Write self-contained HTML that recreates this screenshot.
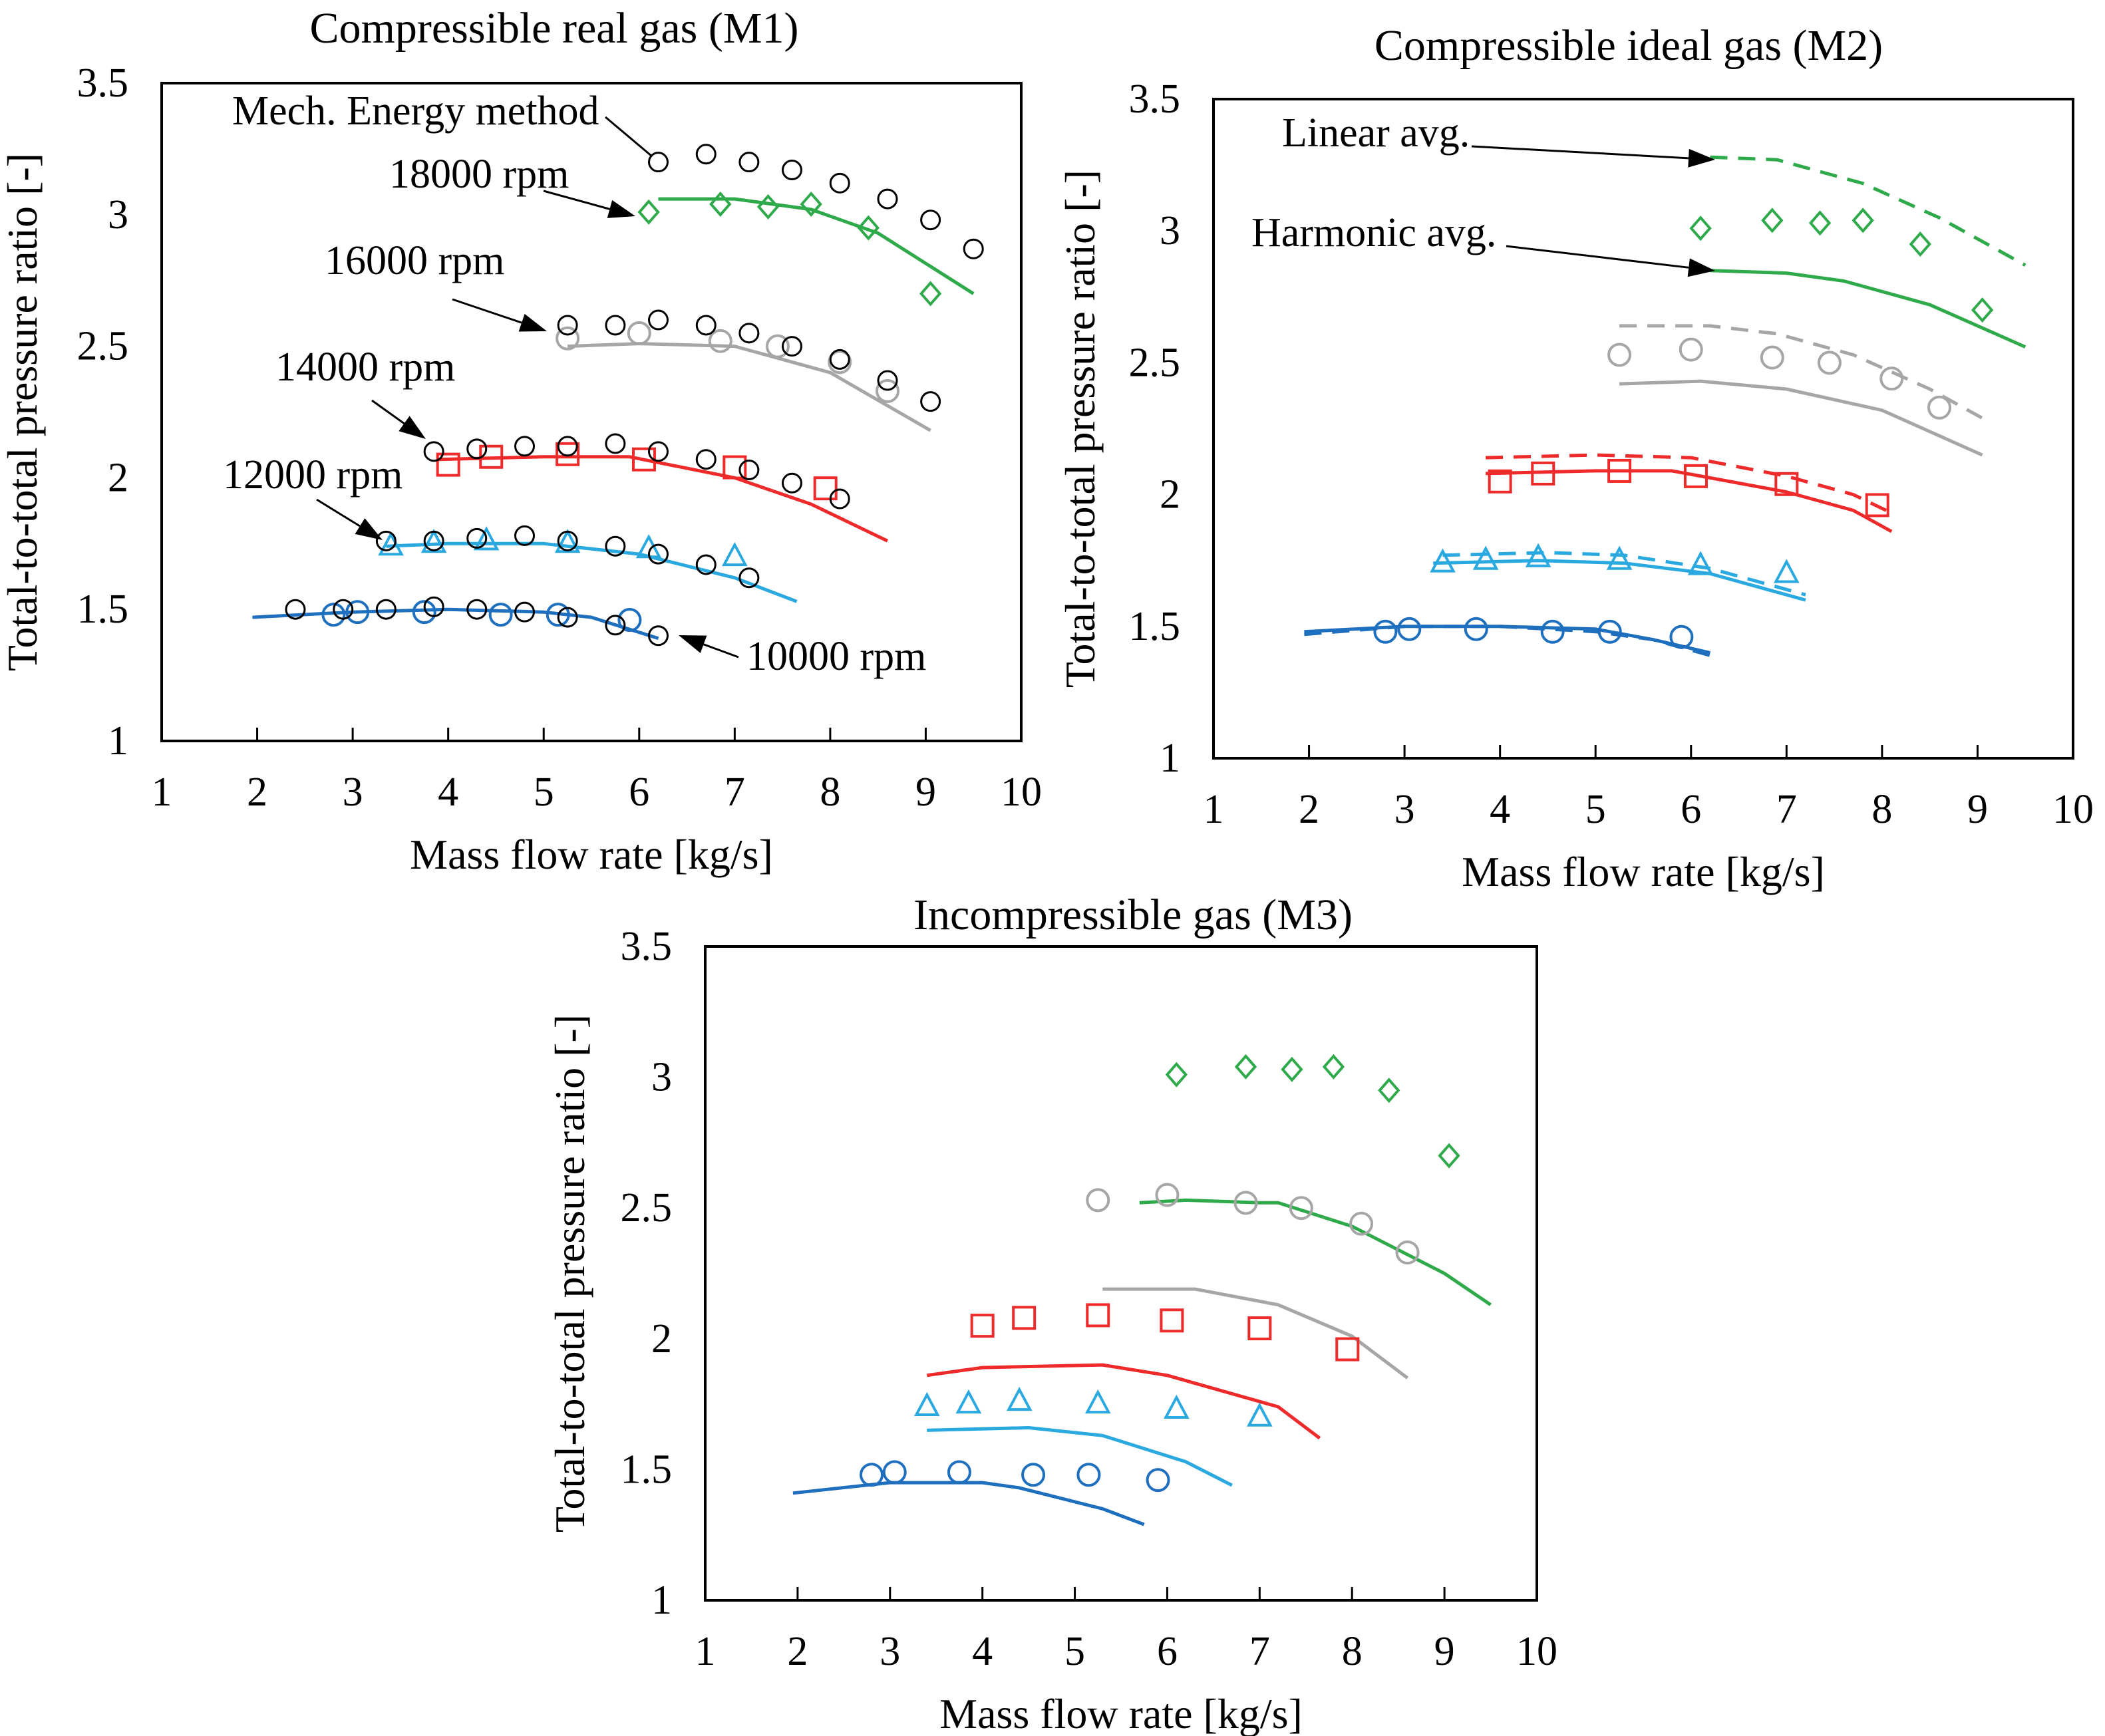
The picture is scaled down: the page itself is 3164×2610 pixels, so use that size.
<!DOCTYPE html>
<html><head><meta charset="utf-8">
<style>
html,body{margin:0;padding:0;background:#fff;}
svg{display:block;font-family:"Liberation Serif",serif;}
</style></head>
<body>
<svg id="fig" xmlns="http://www.w3.org/2000/svg" width="3164" height="2610" viewBox="0 0 3164 2610">
</svg>
<script>
// ---- experimental data (shared by all panels) ----
const exp10x=[2.8,3.05,3.75,4.55,5.15,5.9];
const exp10y=[1.48,1.49,1.49,1.48,1.48,1.46];
const exp12x=[3.4,3.85,4.4,5.25,6.1,7.0];
const exp12y=[1.74,1.75,1.76,1.75,1.73,1.70];
const exp14x=[4.0,4.45,5.25,6.05,7.0,7.95];
const exp14y=[2.05,2.08,2.09,2.07,2.04,1.96];
const exp16x=[5.25,6.0,6.85,7.45,8.1,8.6];
const exp16y=[2.53,2.55,2.52,2.50,2.44,2.33];
const exp18x=[6.1,6.85,7.35,7.8,8.4,9.05];
const exp18y=[3.01,3.04,3.03,3.04,2.95,2.70];
// ---- M1 mechanical energy method points ----
const me10x=[2.4,2.9,3.35,3.85,4.3,4.8,5.25,5.75,6.2];
const me10y=[1.50,1.50,1.50,1.51,1.50,1.49,1.47,1.44,1.40];
const me12x=[3.35,3.85,4.3,4.8,5.25,5.75,6.2,6.7,7.15];
const me12y=[1.76,1.76,1.77,1.78,1.76,1.74,1.71,1.67,1.62];
const me14x=[3.85,4.3,4.8,5.25,5.75,6.2,6.7,7.15,7.6,8.1];
const me14y=[2.10,2.11,2.12,2.12,2.13,2.10,2.07,2.03,1.98,1.92];
const me16x=[5.25,5.75,6.2,6.7,7.15,7.6,8.1,8.6,9.05];
const me16y=[2.58,2.58,2.60,2.58,2.55,2.50,2.45,2.37,2.29];
const me18x=[6.2,6.7,7.15,7.6,8.1,8.6,9.05,9.5];
const me18y=[3.20,3.23,3.20,3.17,3.12,3.06,2.98,2.87];
// ---- M1 lines ----
const m1l10x=[1.95,3,4,5,5.5,6.2], m1l10y=[1.47,1.49,1.50,1.49,1.47,1.39];
const m1l12x=[3.35,4,5,6,7,7.65], m1l12y=[1.74,1.75,1.75,1.71,1.62,1.53];
const m1l14x=[3.9,5,5.9,7,7.8,8.6], m1l14y=[2.07,2.08,2.08,2.00,1.90,1.76];
const m1l16x=[5.25,6,7,8,9.05], m1l16y=[2.50,2.51,2.50,2.40,2.18];
const m1l18x=[6.2,7,7.8,8.5,9.5], m1l18y=[3.06,3.06,3.02,2.93,2.70];
// ---- M2 lines: linear (dashed) and harmonic (solid) ----
const m2d18x=[6.2,6.9,7.8,8.6,9.5], m2d18y=[3.28,3.27,3.18,3.05,2.87];
const m2s18x=[6.2,7,7.6,8.5,9.5], m2s18y=[2.85,2.84,2.81,2.72,2.56];
const m2d16x=[5.25,6.2,6.9,7.7,8.5,9.05], m2d16y=[2.64,2.64,2.61,2.53,2.40,2.29];
const m2s16x=[5.25,6.1,7,8,9.05], m2s16y=[2.42,2.43,2.40,2.32,2.15];
const m2d14x=[3.85,5,6,7,7.7,8.1], m2d14y=[2.14,2.15,2.14,2.07,2.00,1.93];
const m2s14x=[3.85,5,5.8,7,7.7,8.1], m2s14y=[2.08,2.09,2.09,2.01,1.94,1.86];
const m2d12x=[3.4,4.5,5.3,6.2,7.2], m2d12y=[1.77,1.78,1.77,1.72,1.62];
const m2s12x=[3.3,4.4,5.3,6.2,7.2], m2s12y=[1.74,1.75,1.74,1.70,1.60];
const m2d10x=[1.95,3,4,5,5.6,6.2], m2d10y=[1.47,1.50,1.50,1.48,1.45,1.39];
const m2s10x=[1.95,3,4,5,5.6,6.2], m2s10y=[1.48,1.50,1.50,1.49,1.45,1.40];
// ---- M3 lines ----
const m3l18x=[5.7,6.2,7,7.2,8,9,9.5], m3l18y=[2.52,2.53,2.52,2.52,2.43,2.25,2.13];
const m3l16x=[5.3,6.3,7.2,8,8.6], m3l16y=[2.19,2.19,2.13,2.01,1.85];
const m3l14x=[3.4,4,5.3,6,7.2,7.65], m3l14y=[1.86,1.89,1.90,1.86,1.74,1.62];
const m3l12x=[3.4,4.5,5.3,6.2,6.7], m3l12y=[1.65,1.66,1.63,1.53,1.44];
const m3l10x=[1.95,3,4,4.4,5.3,5.75], m3l10y=[1.41,1.45,1.45,1.43,1.35,1.29];
// ---- axis ticks ----
const xTicks=[1,2,3,4,5,6,7,8,9,10];
const yTicks=[1,1.5,2,2.5,3,3.5];
const yTickLabels=["1","1.5","2","2.5","3","3.5"];

const C10="#1f6fbf",C12="#2aa8e0",C14="#ee2a2a",C16="#a6a6a6",C18="#2eaa4a";
const NS="http://www.w3.org/2000/svg";
const svg=document.getElementById('fig');
function mk(tag,attrs,parent){const e=document.createElementNS(NS,tag);for(const k in attrs)e.setAttribute(k,attrs[k]);(parent||svg).appendChild(e);return e;}

function panel(id,L,T,R,B,title,titleX,titleY,ylabX){
  const g=mk('g',{});
  
  
  const sx=v=>L+(v-1)/9*(R-L);
  const sy=v=>B-(v-1)/2.5*(B-T);
  const frame=mk('rect',{x:L,y:T,width:R-L,height:B-T,fill:'none',stroke:'#000','stroke-width':4},g);
  
  
  xTicks.forEach(v=>{
    if(v>1&&v<10){const tk=mk('line',{x1:sx(v),x2:sx(v),y1:B,y2:B-20,stroke:'#000','stroke-width':3},g);
    
    }
    const t=mk('text',{x:sx(v),y:B+97,'font-size':62,'text-anchor':'middle'},g);t.textContent=v;
    
    
  });
  yTicks.forEach((v,i)=>{
    const t=mk('text',{x:L-50,y:sy(v)+20,'font-size':62,'text-anchor':'end'},g);t.textContent=yTickLabels[i];
    
    
  });
  const tt=mk('text',{x:titleX,y:titleY,'font-size':66,'text-anchor':'middle'},g);tt.textContent=title;
  
  
  const xl=mk('text',{x:(L+R)/2,y:B+192,'font-size':64,'text-anchor':'middle'},g);xl.textContent='Mass flow rate [kg/s]';
  
  
  const cy=(T+B)/2;
  const yl=mk('text',{x:ylabX,y:cy,'font-size':64,'text-anchor':'middle',transform:`rotate(-90 ${ylabX} ${cy})`},g);yl.textContent='Total-to-total pressure ratio [-]';
  
  
  return {g,sx,sy};
}
function line(p,xs,ys,col,name,dash){
  const d=xs.map((x,i)=>(i?'L':'M')+p.sx(x).toFixed(1)+' '+p.sy(ys[i]).toFixed(1)).join(' ');
  const e=mk('path',{d,fill:'none',stroke:col,'stroke-width':5,'stroke-linejoin':'round'},p.g);
  if(dash)e.setAttribute('stroke-dasharray','26 16');
  
  
}
function pts(p,xs,ys,col,shape,name){
  xs.forEach((x,i)=>{
    const cx=p.sx(x),cy=p.sy(ys[i]);let e;
    if(shape==='c')e=mk('circle',{cx,cy,r:16,fill:'none',stroke:col,'stroke-width':4},p.g);
    else if(shape==='cs')e=mk('circle',{cx,cy,r:14,fill:'none',stroke:col,'stroke-width':3},p.g);
    else if(shape==='s')e=mk('rect',{x:cx-16,y:cy-16,width:32,height:32,fill:'none',stroke:col,'stroke-width':4},p.g);
    else if(shape==='t')e=mk('path',{d:`M${cx} ${cy-18} L${cx+16} ${cy+12} L${cx-16} ${cy+12} Z`,fill:'none',stroke:col,'stroke-width':4},p.g);
    else e=mk('path',{d:`M${cx} ${cy-16} L${cx+14} ${cy} L${cx} ${cy+16} L${cx-14} ${cy} Z`,fill:'none',stroke:col,'stroke-width':4},p.g);
    
    
  });
}
function expAll(p){
  pts(p,exp10x,exp10y,C10,'c','exp-10000-point');
  pts(p,exp12x,exp12y,C12,'t','exp-12000-point');
  pts(p,exp14x,exp14y,C14,'s','exp-14000-point');
  pts(p,exp16x,exp16y,C16,'c','exp-16000-point');
  pts(p,exp18x,exp18y,C18,'d','exp-18000-point');
}
function label(txt,x,y,name,size){
  const t=mk('text',{x,y,'font-size':size||62},svg);t.textContent=txt;
  
  
}
function arrow(x1,y1,x2,y2,name,head){
  const g=mk('g',{});
  
  
  const a=Math.atan2(y2-y1,x2-x1),h=head?40:0,w=14;
  const bx=x2-h*Math.cos(a),by=y2-h*Math.sin(a);
  mk('line',{x1,y1,x2:bx,y2:by,stroke:'#000','stroke-width':3},g);
  if(head){mk('path',{d:`M${x2} ${y2} L${bx-w*Math.sin(a)} ${by+w*Math.cos(a)} L${bx+w*Math.sin(a)} ${by-w*Math.cos(a)} Z`,fill:'#000'},g);}
}

// Panel 1
const p1=panel('panel-m1',243,125,1535,1114,'Compressible real gas (M1)',833,64,55);
line(p1,m1l10x,m1l10y,C10,'m1-line-10000');
line(p1,m1l12x,m1l12y,C12,'m1-line-12000');
line(p1,m1l14x,m1l14y,C14,'m1-line-14000');
line(p1,m1l16x,m1l16y,C16,'m1-line-16000');
line(p1,m1l18x,m1l18y,C18,'m1-line-18000');
expAll(p1);
pts(p1,me10x,me10y,'#000','cs','me-10000-point');
pts(p1,me12x,me12y,'#000','cs','me-12000-point');
pts(p1,me14x,me14y,'#000','cs','me-14000-point');
pts(p1,me16x,me16y,'#000','cs','me-16000-point');
pts(p1,me18x,me18y,'#000','cs','me-18000-point');
label('Mech. Energy  method',349,187,'mech-energy-label');
arrow(910,176,980,235,'mech-energy-leader',false);
label('18000 rpm',585,282,'rpm-18000-label');
arrow(817,287,955,325,'rpm-18000-arrow',true);
label('16000 rpm',488,412,'rpm-16000-label');
arrow(680,450,822,498,'rpm-16000-arrow',true);
label('14000 rpm',414,572,'rpm-14000-label');
arrow(559,602,640,660,'rpm-14000-arrow',true);
label('12000 rpm',335,734,'rpm-12000-label');
arrow(476,751,575,812,'rpm-12000-arrow',true);
label('10000 rpm',1122,1007,'rpm-10000-label');
arrow(1110,988,1020,955,'rpm-10000-arrow',true);

// Panel 2
const p2=panel('panel-m2',1824,149,3116,1140,'Compressible ideal gas (M2)',2448,90,1645);
line(p2,m2d10x,m2d10y,C10,'m2-linear-10000',true);
line(p2,m2s10x,m2s10y,C10,'m2-harmonic-10000');
line(p2,m2d12x,m2d12y,C12,'m2-linear-12000',true);
line(p2,m2s12x,m2s12y,C12,'m2-harmonic-12000');
line(p2,m2d14x,m2d14y,C14,'m2-linear-14000',true);
line(p2,m2s14x,m2s14y,C14,'m2-harmonic-14000');
line(p2,m2d16x,m2d16y,C16,'m2-linear-16000',true);
line(p2,m2s16x,m2s16y,C16,'m2-harmonic-16000');
line(p2,m2d18x,m2d18y,C18,'m2-linear-18000',true);
line(p2,m2s18x,m2s18y,C18,'m2-harmonic-18000');
expAll(p2);
label('Linear  avg.',1927,220,'linear-avg-label');
arrow(2212,220,2578,240,'linear-avg-arrow',true);
label('Harmonic avg.',1881,370,'harmonic-avg-label');
arrow(2264,370,2578,407,'harmonic-avg-arrow',true);

// Panel 3
const p3=panel('panel-m3',1060,1423,2310,2406,'Incompressible gas (M3)',1703,1397,878);
line(p3,m3l10x,m3l10y,C10,'m3-line-10000');
line(p3,m3l12x,m3l12y,C12,'m3-line-12000');
line(p3,m3l14x,m3l14y,C14,'m3-line-14000');
line(p3,m3l16x,m3l16y,C16,'m3-line-16000');
line(p3,m3l18x,m3l18y,C18,'m3-line-18000');
expAll(p3);
</script>
</body></html>
